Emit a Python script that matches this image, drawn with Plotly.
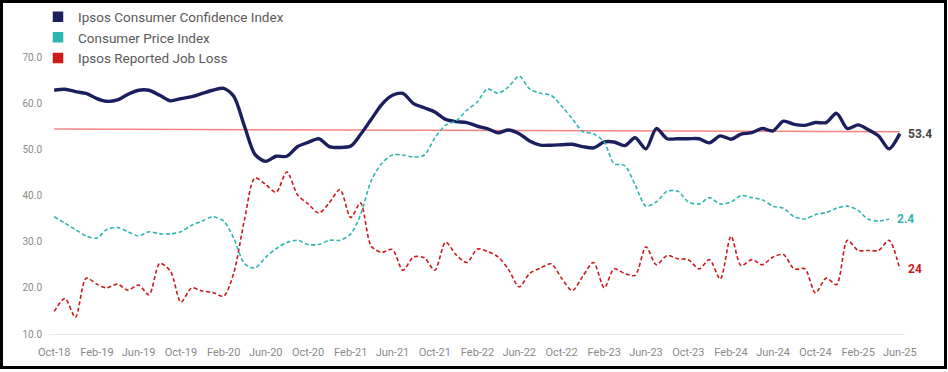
import pandas as pd
import plotly.graph_objects as go

# ---------------- data ----------------
months = pd.date_range("2018-10-01", periods=81, freq="MS")  # Oct-18 .. Jun-25

cci = [62.8, 63.0, 62.5, 62.1, 61.0, 60.4, 60.7, 61.9, 62.8, 62.8,
       61.7, 60.5, 61.0, 61.4, 62.1, 62.8, 63.2, 61.5, 55.0, 48.9,
       47.4, 48.5, 48.5, 50.6, 51.5, 52.3, 50.6, 50.4, 50.7, 53.2,
       56.5, 59.7, 61.7, 62.1, 59.9, 59.0, 58.1, 56.5, 56.0, 55.8,
       55.0, 54.5, 53.6, 54.2, 53.4, 51.8, 50.9, 50.9, 51.0, 51.1,
       50.6, 50.3, 51.6, 51.6, 50.8, 52.5, 50.1, 54.5, 52.3, 52.3,
       52.3, 52.3, 51.4, 52.9, 52.2, 53.3, 53.6, 54.5, 54.0, 56.1,
       55.4, 55.2, 55.8, 55.8, 57.8, 54.5, 55.3, 54.3, 52.9, 50.1,
       53.4]

# US CPI, year-over-year %, Oct-18 .. May-25 (one month shorter)
cpi = [2.5, 2.2, 1.9,
       1.6, 1.5, 1.9, 2.0, 1.8, 1.6, 1.8, 1.7, 1.7, 1.8, 2.1, 2.3,
       2.5, 2.3, 1.5, 0.3, 0.1, 0.6, 1.0, 1.3, 1.4, 1.2, 1.2, 1.4,
       1.4, 1.7, 2.6, 4.2, 5.0, 5.4, 5.4, 5.3, 5.4, 6.2, 6.8, 7.0,
       7.5, 7.9, 8.5, 8.3, 8.6, 9.1, 8.5, 8.3, 8.2, 7.7, 7.1, 6.5,
       6.4, 6.0, 5.0, 4.9, 4.0, 3.0, 3.2, 3.7, 3.7, 3.2, 3.1, 3.4,
       3.1, 3.2, 3.5, 3.4, 3.3, 3.0, 2.9, 2.5, 2.4, 2.6, 2.7, 2.9,
       3.0, 2.8, 2.4, 2.3, 2.4]

job_loss = [14.9, 17.7, 13.6, 22.1, 20.8, 20.0, 20.8, 19.5, 20.6, 18.5,
            25.3, 23.6, 16.9, 20.0, 19.3, 19.0, 18.2, 23.2, 34.8, 43.8,
            42.4, 40.7, 45.1, 40.1, 38.2, 36.2, 38.4, 41.3, 35.2, 38.4,
            29.0, 27.7, 28.3, 23.8, 26.7, 26.5, 23.8, 29.9, 27.2, 25.5,
            28.4, 27.9, 26.7, 24.0, 20.2, 23.1, 24.3, 25.2, 22.1, 19.4,
            22.5, 25.5, 20.0, 24.1, 23.1, 22.7, 28.9, 25.0, 27.0, 26.3,
            26.1, 24.1, 26.1, 21.9, 31.2, 24.8, 26.1, 25.0, 26.7, 27.2,
            24.1, 24.1, 18.9, 22.1, 20.7, 30.3, 28.1, 28.1, 28.1, 30.3,
            24.0]

ref_dates = ["2018-10-01", "2025-06-01"]
ref_line = [54.4, 53.8]

series_names = ["Ipsos Consumer Confidence Index", "Consumer Price Index",
                "Ipsos Reported Job Loss"]
end_labels = ["53.4", "2.4", "24"]

# ---------------- style ----------------
NAVY = "#1b1f5e"
TEAL = "#2db5b0"
RED = "#cc1a1a"
REF = "#f38484"
GREY = "#8a8a8a"
FONT = "Roboto"

fig = go.Figure()

fig.add_trace(go.Scatter(x=ref_dates, y=ref_line, mode="lines",
                         line=dict(color=REF, width=1.5), showlegend=False,
                         hoverinfo="skip"))
fig.add_trace(go.Scatter(x=months[:len(cpi)], y=cpi, mode="lines", yaxis="y2",
                         line=dict(color=TEAL, width=1.6, dash="4px,2.5px",
                                   shape="spline", smoothing=0.8),
                         showlegend=False, name=series_names[1]))
fig.add_trace(go.Scatter(x=months, y=job_loss, mode="lines",
                         line=dict(color=RED, width=1.6, dash="4px,2.5px",
                                   shape="spline", smoothing=0.8),
                         showlegend=False, name=series_names[2]))
fig.add_trace(go.Scatter(x=months, y=cci, mode="lines",
                         line=dict(color=NAVY, width=3.4, shape="spline",
                                   smoothing=0.8),
                         showlegend=False, name=series_names[0]))

# legend entries (square swatches)
for name, col in zip(series_names, [NAVY, TEAL, RED]):
    fig.add_trace(go.Scatter(x=[None], y=[None], mode="markers", name=name,
                             marker=dict(symbol="square", size=10.5, color=col)))

# end labels
fig.add_annotation(x=months[-1], y=cci[-1], xref="x", yref="y",
                   text=end_labels[0], showarrow=False, xanchor="left",
                   xshift=6, font=dict(family=FONT, size=12, color="#444444",
                                       weight="bold"))
fig.add_annotation(x=months[len(cpi) - 1], y=cpi[-1], xref="x", yref="y2",
                   text=end_labels[1], showarrow=False, xanchor="left",
                   xshift=6, font=dict(family=FONT, size=12, color=TEAL,
                                       weight="bold"))
fig.add_annotation(x=months[-1], y=job_loss[-1], xref="x", yref="y",
                   text=end_labels[2], showarrow=False, xanchor="left",
                   xshift=6, font=dict(family=FONT, size=12, color=RED,
                                       weight="bold"))

L, R, T, B, W, H = 49, 43, 57, 38, 948, 372
pw, ph = W - L - R, H - T - B


def px_x(p):
    return (p - L) / pw


def px_y(p):
    return (H - B - p) / ph


fig.add_shape(type="rect", xref="paper", yref="paper",
              x0=px_x(1.5), x1=px_x(945.5), y0=px_y(367.5), y1=px_y(1.5),
              line=dict(color="black", width=3), layer="above")

fig.update_layout(
    width=W, height=H,
    margin=dict(l=L, r=R, t=T, b=B, autoexpand=False),
    plot_bgcolor="white", paper_bgcolor="white",
    font=dict(family=FONT, color=GREY),
    xaxis=dict(type="date", range=["2018-09-16", "2025-06-16"],
               tick0="2018-10-01", dtick="M4", tickformat="%b-%y",
               showgrid=False, zeroline=False, showline=True,
               linecolor="#e8e8e8", linewidth=1, ticks="",
               tickfont=dict(family=FONT, size=11, color=GREY),
               ticklabelstandoff=8),
    yaxis=dict(range=[10, 70], dtick=10, tickformat=".1f", showgrid=False,
               zeroline=False, showline=False, ticks="",
               tickfont=dict(family=FONT, size=10, color=GREY),
               ticklabelstandoff=6),
    yaxis2=dict(overlaying="y", range=[-3, 10], visible=False),
    legend=dict(x=px_x(38), y=px_y(1.5), xanchor="left", yanchor="top",
                bgcolor="rgba(0,0,0,0)",
                font=dict(family=FONT, size=13.5, color="#5a5a5a")),
    hovermode=False,
)

fig.write_html("out.html",
               config={"displayModeBar": False, "staticPlot": True},
               post_script="document.body.style.margin='0';"
                           "document.body.style.overflow='hidden';")
